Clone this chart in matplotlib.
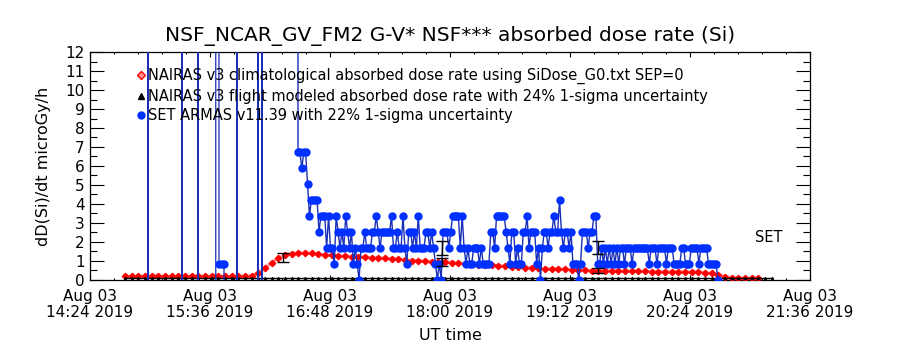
import datetime as dt
import numpy as np
import matplotlib
matplotlib.use('Agg')
import matplotlib.pyplot as plt
import matplotlib.dates as mdates
from matplotlib.lines import Line2D
from matplotlib.ticker import AutoMinorLocator, MultipleLocator

# start of the x axis, all times below are minutes after this
t0 = dt.datetime(2019, 8, 3, 14, 24)

# NAIRAS climatological dose rate, one value every 4 minutes from minute 21
red_min = np.arange(21, 402, 4)
red_val = [0.17, 0.17, 0.17, 0.17, 0.17, 0.17, 0.17, 0.17, 0.17, 0.17,
           0.17, 0.17, 0.17, 0.17, 0.17, 0.17, 0.17, 0.17, 0.17,
           0.2, 0.35, 0.62, 0.9, 1.12, 1.28, 1.37, 1.4, 1.4, 1.38, 1.33,
           1.3, 1.28, 1.26, 1.24, 1.22, 1.2, 1.18, 1.16, 1.14, 1.12, 1.1,
           1.07, 1.04, 1.01, 0.99, 0.97, 0.95, 0.94, 0.93, 0.9, 0.87, 0.84,
           0.81, 0.79, 0.77, 0.76, 0.73, 0.7, 0.68, 0.66, 0.64, 0.62, 0.6,
           0.58, 0.56, 0.55, 0.54, 0.53, 0.51, 0.49, 0.47, 0.46, 0.46, 0.45,
           0.45, 0.44, 0.44, 0.43, 0.43, 0.42, 0.42, 0.42, 0.41, 0.41, 0.4,
           0.4, 0.39, 0.37, 0.33, 0.27, 0.15, 0.1, 0.08, 0.07, 0.07, 0.07]

# NAIRAS flight modeled dose rate (sits on the floor of the plot)
model_min = np.arange(21, 410, 4)
model_val = [0.08] * len(model_min)

# SET ARMAS before take-off: fill values / spikes off the scale
blue_pre_min = [34.5, 34.8, 35.1, 54.9, 55.2, 55.5, 64.5, 64.8, 65.1,
                75.3, 75.6, 77.4, 79.2, 80.4, 80.8, 87.9, 88.2, 88.5,
                100.5, 100.8, 101.1, 102.9, 103.2, 103.5, 110.0, 123.9]
blue_pre_val = [-999, 999, -999, -999, 999, -999, -999, 999, -999,
                -999, 999, 0.84, 0.84, 0.84, -999, -999, 999, -999,
                -999, 999, -999, -999, 999, -999, np.nan, 999]

# SET ARMAS in flight, counts of 0.84 microGy/h, regular samples 124.8 -> 376.8 min
blue_start, blue_end = 124.8, 376.8
blue_step = 0.84
blue_counts = [8, 8, 7, 8, 8, 6,
               4, 5, 5, 5, 5, 3, 4, 4, 4, 2, 4, 2, 2, 1,
               4, 3, 2, 3, 2, 4, 3, 2, 3, 1, 2, 1, 0, 2, 2, 3, 2, 2, 2, 3, 3, 4, 3, 2,
               3, 3, 3, 3, 3, 4, 2, 2, 3, 2, 2, 4, 2, 1, 3, 3, 2, 3, 2, 4, 2, 2, 2, 3,
               3, 2, 3, 2, 1, 0, 1, 0,
               3, 3, 3, 2, 3, 4, 4, 4, 4, 2, 4, 2, 1, 2, 1, 1, 2, 2, 2, 1, 2, 1, 1, 1,
               1, 3, 3, 2,
               4, 4, 4, 4, 4, 3, 2, 1, 3, 3, 1, 2, 1, 1, 3, 3, 4, 2, 3, 3, 3, 1, 2, 0,
               2, 3, 3, 2, 3, 3, 4, 3, 3, 5, 3, 2, 3, 3, 2, 3, 1, 1, 1, 0, 1, 3, 3, 3,
               2, 3, 3, 4, 4, 1, 1,
               2, 1, 2, 1, 2, 1, 2, 1, 2, 1, 2, 2, 1, 2, 2, 2, 1, 2, 2, 2, 2, 2, 2, 2,
               2, 1, 2, 2, 2, 1, 2, 2, 2, 2, 1, 2, 2, 2, 1, 1, 1, 1, 2, 2, 1, 1, 1, 2,
               2, 2, 2, 1, 2, 2, 2, 2, 1, 1, 1, 1, 1, 0]

# 1-sigma error bars
model_err_min = [116, 211, 305]
model_err_val = [1.17, 0.93, 0.47]
model_err = [0.26, 0.22, 0.12]
set_err_min = [211, 305]
set_err_val = [1.68, 1.68]
set_err = [0.37, 0.35]

tick_min = [0, 72, 144, 216, 288, 360, 432]

legend_labels = ['NAIRAS v3 climatological absorbed dose rate using SiDose_G0.txt SEP=0',
                 'NAIRAS v3 flight modeled absorbed dose rate with 24% 1-sigma uncertainty',
                 'SET ARMAS v11.39 with 22% 1-sigma uncertainty']


def tnum(minutes):
    return mdates.date2num(t0) + np.asarray(minutes, dtype=float) / 1440.0


blue_min = np.linspace(blue_start, blue_end, len(blue_counts))
blue_val = np.array(blue_counts) * blue_step

fig = plt.figure(figsize=(9, 3.5), dpi=100)
ax = fig.add_axes([0.1, 0.201, 0.8, 0.65])

RED = '#ff0000'
BLUE = '#0030ff'
BLUE_LINE = '#1a2fb8'

ax.plot(tnum(red_min), red_val, color='#ff9a9a', lw=2.5, zorder=2)
ax.plot(tnum(red_min), red_val, ls='none', marker='D', ms=3.2, mfc=RED, mec=RED, zorder=3)
ax.plot(tnum(model_min), model_val, color='black', lw=1, marker='^', ms=1.5, zorder=3)

ax.plot(tnum(blue_pre_min), blue_pre_val, color=BLUE_LINE, lw=0.9, zorder=4)
ax.plot(tnum(blue_pre_min), blue_pre_val, ls='none', marker='o', ms=5, color=BLUE, zorder=5)
ax.plot(np.r_[tnum(blue_pre_min[-1]), tnum(blue_min)], np.r_[999, blue_val],
        color=BLUE_LINE, lw=1, zorder=4)
ax.plot(tnum(blue_min), blue_val, ls='none', marker='o', ms=5, color=BLUE, zorder=5)

ax.errorbar(tnum(model_err_min), model_err_val, yerr=model_err, fmt='none',
            ecolor='black', elinewidth=1, capsize=4, capthick=1, zorder=6)
ax.errorbar(tnum(set_err_min), set_err_val, yerr=set_err, fmt='none',
            ecolor='black', elinewidth=1, capsize=4, capthick=1, zorder=6)

ax.text(tnum(399), 2.2, 'SET', fontsize=10.5, va='center', ha='left')

ax.set_xlim(tnum(0), tnum(432))
ax.set_ylim(0, 12)

ticks = tnum(tick_min)
labels = [(t0 + dt.timedelta(minutes=m)).strftime('%b %d\n%H:%M %Y') for m in tick_min]
ax.set_xticks(ticks, labels=labels)
for lab in ax.get_xticklabels():
    lab.set_linespacing(1.05)
ax.xaxis.set_minor_locator(AutoMinorLocator(5))
ax.yaxis.set_major_locator(MultipleLocator(1))
ax.yaxis.set_minor_locator(MultipleLocator(0.5))
ax.tick_params(axis='both', which='both', direction='in', top=True, right=True,
               labelsize=11, width=0.8)
ax.tick_params(axis='x', which='major', length=3.3, pad=7)
ax.tick_params(axis='x', which='minor', length=1.7)
ax.tick_params(axis='y', which='major', length=10.4, pad=4)
ax.tick_params(axis='y', which='minor', length=5.2)
fig.canvas.draw()
ylabs = ax.get_yticklabels()
ylabs[0].set_va('bottom')
ylabs[-1].set_va('top')
for s in ax.spines.values():
    s.set_linewidth(0.9)

ax.set_title('NSF_NCAR_GV_FM2 G-V* NSF*** absorbed dose rate (Si)', fontsize=14.5, pad=8)
ax.set_xlabel('UT time', fontsize=11.5, labelpad=6)
ax.set_ylabel('dD(Si)/dt microGy/h', fontsize=11.5, labelpad=10)

handles = [Line2D([], [], ls='none', marker='D', ms=4, mfc='#ff9090', mec=RED),
           Line2D([], [], ls='none', marker='^', ms=4.5, color='black'),
           Line2D([], [], ls='none', marker='o', ms=5, color=BLUE)]
ax.legend(handles, legend_labels, loc='upper left', bbox_to_anchor=(0.065, 0.93),
          frameon=False, handlelength=0.6, handletextpad=0.2, labelspacing=0.3,
          fontsize=10.5, borderaxespad=0, borderpad=0)

fig.savefig('out.png', dpi=100)
